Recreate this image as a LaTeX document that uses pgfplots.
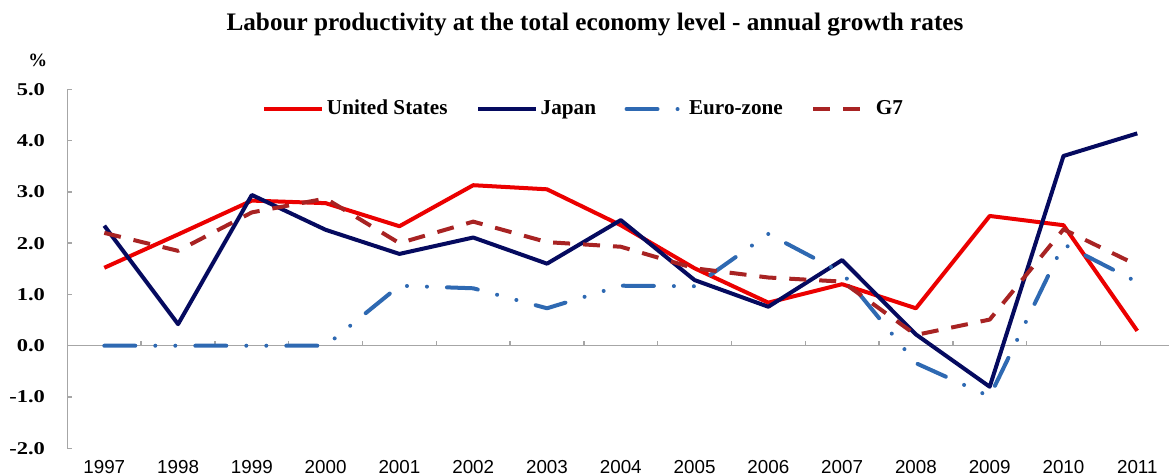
\documentclass[border=0pt]{standalone}
\usepackage{pgfplots}
\usepackage{pgfplotstable}
\pgfplotsset{compat=1.18}
\usepackage{fontspec}
\setmainfont{Liberation Serif}
\newfontfamily\yfont[FakeStretch=1.25]{Liberation Serif}
\newfontfamily\xfont{Liberation Sans}
\definecolor{usred}{RGB}{235,0,0}
\definecolor{jpnavy}{RGB}{5,10,95}
\definecolor{ezblue}{RGB}{46,105,178}
\definecolor{gsred}{RGB}{168,35,35}
\definecolor{axgray}{RGB}{166,166,166}

\pgfplotstableread{
x us jp ez g7
0 1.52 2.34 0 2.20
1 2.17 0.42 0 1.85
2 2.83 2.94 0 2.60
3 2.78 2.26 0 2.87
4 2.33 1.79 1.17 2.00
5 3.13 2.11 1.12 2.42
6 3.05 1.60 0.73 2.02
7 2.35 2.45 1.17 1.93
8 1.51 1.28 1.16 1.51
9 0.84 0.76 2.18 1.33
10 1.20 1.67 1.42 1.25
11 0.73 0.22 -0.34 0.21
12 2.53 -0.80 -0.99 0.51
13 2.35 3.70 1.98 2.27
14 0.29 4.14 1.24 1.57
}\data

\begin{document}
\begin{tikzpicture}
\useasboundingbox (-33.7pt,-13.85pt) rectangle (550.8pt,224.15pt);
\begin{axis}[
  at={(0pt,0pt)}, anchor=south west,
  scale only axis, width=550.8pt, height=179.5pt,
  xmin=-0.5, xmax=14.43, ymin=-2, ymax=5,
  axis x line=middle, axis y line=left,
  axis line style={-, draw=axgray, line width=0.7pt},
  xtick={0,...,14},
  xticklabels={1997,1998,1999,2000,2001,2002,2003,2004,2005,2006,2007,2008,2009,2010,2011},
  major x tick style={draw=none},
  minor x tick num=1,
  minor x tick style={draw=axgray, line width=0.7pt, yshift=1.25pt},
  xtick align=center,
  ytick={-2,-1,0,1,2,3,4,5},
  ytick align=inside,
  major y tick style={draw=axgray, line width=0.7pt},
  major tick length=2.5pt, minor tick length=2.5pt,
  yticklabel style={font=\yfont\bfseries\fontsize{9}{10}\selectfont, anchor=east, inner sep=0pt, xshift=-11pt,
    /pgf/number format/.cd, fixed, fixed zerofill, precision=1, assume math mode=true},
  xticklabel style={font=\xfont\fontsize{9.4}{11}\selectfont, anchor=center, inner sep=0pt, yshift=-59.4pt},
  legend style={at={(0.1767,0.945)}, anchor=west, draw=none, fill=none, inner sep=0pt,
    font=\bfseries\fontsize{10.6}{12}\selectfont,
    nodes={inner sep=1.25pt},
    /tikz/every even column/.append style={column sep=13pt}},
  legend columns=4,
  legend image code/.code={\draw[#1] (0pt,0pt) -- (29pt,0pt);},
  clip=false,
]
\addplot[usred, line width=2pt, line join=round] table[x=x,y=us] {\data};
\addlegendentry{United States}
\addplot[jpnavy, line width=2pt, line join=round] table[x=x,y=jp] {\data};
\addlegendentry{Japan}
\addplot[ezblue, line width=2pt, line cap=round, line join=round,
  dash pattern=on 15.5pt off 10pt on 0pt off 10pt on 0pt off 10pt] table[x=x,y=ez] {\data};
\addlegendentry{Euro-zone}
\addplot[gsred, line width=2pt, line join=round, dash pattern=on 8.5pt off 6.5pt] table[x=x,y=g7] {\data};
\addlegendentry{G7}
\end{axis}
\node[font=\bfseries\fontsize{12.6}{14}\selectfont] at (263.8pt,211.7pt) {Labour productivity at the total economy level - annual growth rates};
\node[font=\bfseries\fontsize{9.4}{11}\selectfont] at (-14.8pt,194.2pt) {\%};
\end{tikzpicture}
\end{document}
